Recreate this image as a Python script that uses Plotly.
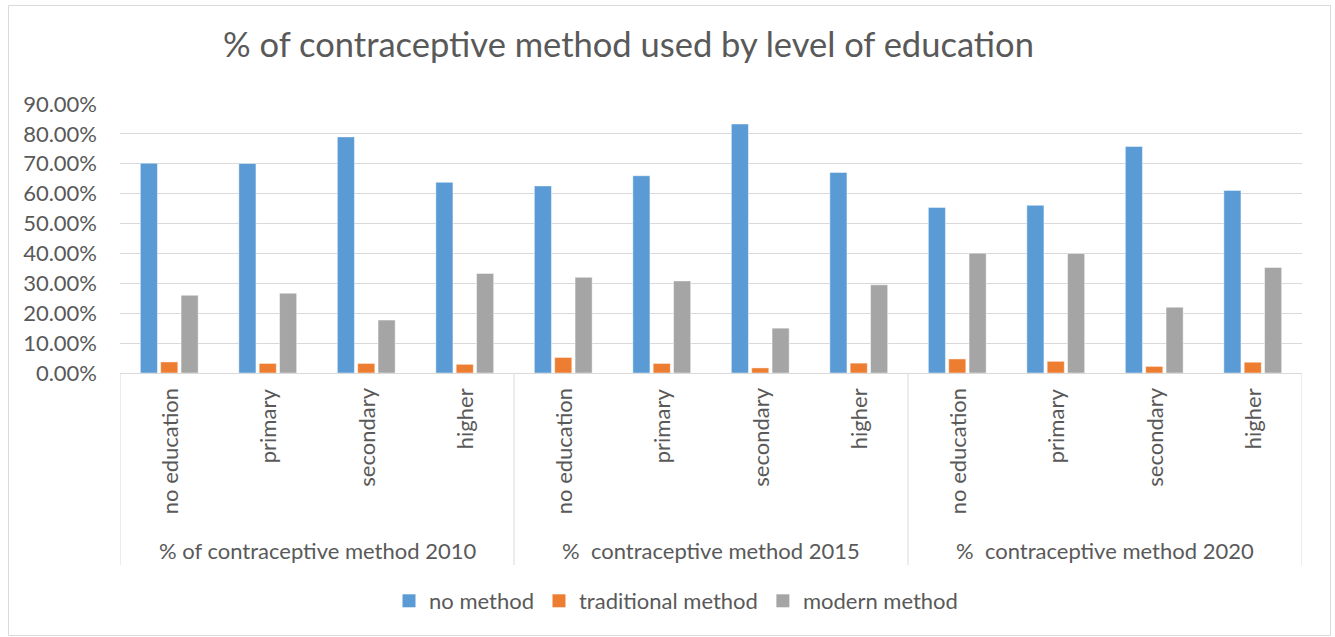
import plotly.graph_objects as go

# ---- data ----
groups = ["% of contraceptive method 2010", "%  contraceptive method 2015", "%  contraceptive method 2020"]
levels = ["no education", "primary", "secondary", "higher"]
series_names = ["no method", "traditional method", "modern method"]
no_method = [70.2, 70.1, 79.0, 63.8, 62.6, 66.0, 83.3, 67.1, 55.4, 56.1, 75.8, 61.1]
traditional = [3.7, 3.2, 3.2, 2.9, 5.2, 3.2, 1.7, 3.3, 4.7, 3.9, 2.2, 3.6]
modern = [26.0, 26.7, 17.7, 33.3, 32.0, 30.8, 15.0, 29.5, 40.1, 40.0, 22.0, 35.3]
y_ticks = [0, 10, 20, 30, 40, 50, 60, 70, 80, 90]

colors = ["#5B9BD5", "#ED7D31", "#A5A5A5"]
text_col = "#595959"
grid_col = "#D9D9D9"
font = "Lato"
fs = 22

n = len(groups) * len(levels)
xs = list(range(n))

fig = go.Figure()
for name, vals, c in zip(series_names, [no_method, traditional, modern], colors):
    fig.add_trace(go.Bar(
        x=xs, y=[v / 100 for v in vals], name=name, showlegend=False,
        marker=dict(color=c, line=dict(color="rgba(255,255,255,0.45)", width=1)),
    ))
# legend entries with square swatches
for name, c in zip(series_names, colors):
    fig.add_trace(go.Scatter(
        x=[None], y=[None], mode="markers", name=name,
        marker=dict(symbol="square", size=13, color=c)))

# plot-area geometry in pixels (for paper-coordinate placement of labels)
W, H = 1335, 637
L, R, T, B = 120, 33, 104, 264
pw = W - L - R
ph = H - T - B

def py(p):
    return (H - B - p) / ph

def px(p):
    return (p - L) / pw

annotations = []
for i in xs:
    annotations.append(dict(
        x=i, y=py(386), xref="x", yref="paper", text=levels[i % len(levels)],
        textangle=-90, showarrow=False, xanchor="center", yanchor="top",
        font=dict(family=font, size=fs, color=text_col)))
for g, gname in enumerate(groups):
    annotations.append(dict(
        x=g * len(levels) + (len(levels) - 1) / 2, y=py(550), xref="x", yref="paper",
        text=gname, showarrow=False, xanchor="center", yanchor="middle",
        font=dict(family=font, size=fs, color=text_col)))

shapes = []
for g in range(len(groups) + 1):
    xb = g * len(levels) - 0.5
    shapes.append(dict(type="line", xref="x", yref="paper", x0=xb, x1=xb,
                       y0=0, y1=py(565), line=dict(color=grid_col, width=1)))
# chart border
shapes.append(dict(type="rect", xref="paper", yref="paper",
                   x0=px(8.5), x1=px(1330.5), y0=py(635.5), y1=py(5.5),
                   line=dict(color=grid_col, width=1)))

fig.update_layout(
    width=W, height=H, autosize=False,
    margin=dict(l=L, r=R, t=T, b=B, autoexpand=False),
    paper_bgcolor="white", plot_bgcolor="white",
    barmode="group", bargap=0.38, bargroupgap=0.16,
    title=dict(text="% of contraceptive method used by level of education",
               x=628.5 / W, xanchor="center", y=1 - 45 / H, yanchor="middle",
               font=dict(family=font, size=34.5, color=text_col)),
    font=dict(family=font, color=text_col),
    xaxis=dict(range=[-0.5, n - 0.5], showticklabels=False, showgrid=False,
               zeroline=False, showline=True, linecolor=grid_col, linewidth=1,
               ticks="", automargin=False),
    yaxis=dict(range=[0, 0.9], tickvals=[v / 100 for v in y_ticks], tickformat=".2%",
               showgrid=True, gridcolor=grid_col, gridwidth=1, zeroline=False,
               showline=False, ticks="", ticklabelstandoff=22, automargin=False,
               tickfont=dict(family=font, size=fs, color=text_col)),
    legend=dict(orientation="h", x=px(676), xanchor="center",
                y=py(601), yanchor="middle",
                font=dict(family=font, size=fs, color=text_col),
                itemwidth=30, traceorder="normal"),
    annotations=annotations, shapes=shapes,
    showlegend=True,
)

fig.write_html("out.html")
